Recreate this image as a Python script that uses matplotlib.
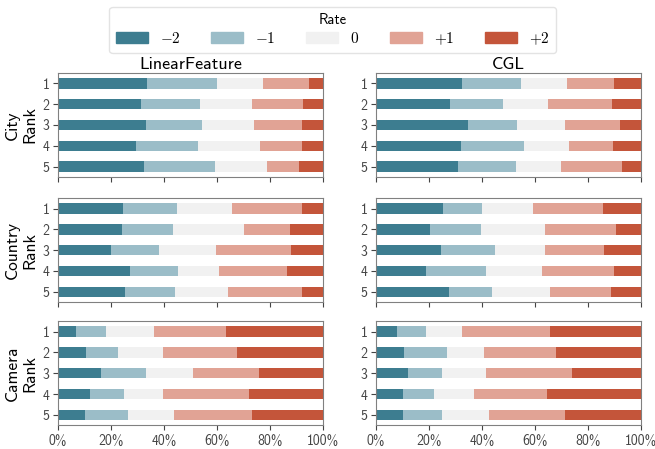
import numpy as np
import matplotlib
matplotlib.use("Agg")
import matplotlib.pyplot as plt
from matplotlib.patches import Patch

plt.rcParams["font.family"] = ["cmss10", "DejaVu Sans"]
plt.rcParams["mathtext.fontset"] = "cm"
plt.rcParams["axes.unicode_minus"] = False

ranks = ["1", "2", "3", "4", "5"]
rates = ["$-2$", "$-1$", "$0$", "$+1$", "$+2$"]
colors = ["#3d7d90", "#9bbdc8", "#f1f1f1", "#e1a395", "#c4553a"]
methods = ["LinearFeature", "CGL"]
groups = ["City", "Country", "Camera"]

# percentages per rank, columns: -2, -1, 0, +1, +2
city_linear = [[33.5, 26.5, 17.3, 17.4, 5.3],
               [31.2, 22.3, 19.7, 19.2, 7.6],
               [33.1, 21.2, 19.6, 18.2, 7.9],
               [29.3, 23.5, 23.4, 15.9, 7.9],
               [32.4, 26.8, 19.6, 12.1, 9.1]]
city_cgl = [[32.5, 22.4, 17.0, 17.8, 10.3],
            [28.0, 20.0, 17.1, 23.8, 11.1],
            [34.8, 18.5, 18.2, 20.4, 8.1],
            [32.2, 23.8, 17.0, 16.3, 10.7],
            [31.0, 22.0, 17.0, 22.7, 7.3]]
country_linear = [[24.4, 20.4, 20.8, 26.5, 7.9],
                  [24.0, 19.3, 26.8, 17.4, 12.5],
                  [19.9, 18.1, 21.6, 28.3, 12.1],
                  [27.1, 18.1, 15.5, 25.7, 13.6],
                  [25.4, 18.7, 20.0, 28.0, 7.9]]
country_cgl = [[25.3, 14.8, 19.3, 26.1, 14.5],
               [20.4, 19.3, 24.2, 26.5, 9.6],
               [24.6, 20.4, 18.6, 22.3, 14.1],
               [18.9, 22.7, 21.2, 26.9, 10.3],
               [27.6, 16.3, 21.9, 22.7, 11.5]]
camera_linear = [[6.7, 11.3, 18.1, 27.3, 36.6],
                 [10.5, 12.0, 17.0, 28.0, 32.5],
                 [16.1, 17.0, 17.8, 24.9, 24.2],
                 [12.0, 12.8, 14.7, 32.5, 28.0],
                 [10.1, 16.2, 17.4, 29.5, 26.8]]
camera_cgl = [[7.9, 11.0, 13.6, 33.3, 34.2],
              [10.6, 16.3, 14.0, 27.2, 31.9],
              [12.1, 12.9, 16.6, 32.2, 26.2],
              [10.2, 11.7, 15.2, 27.6, 35.3],
              [10.2, 14.8, 17.7, 28.8, 28.5]]

data = [[city_linear, city_cgl],
        [country_linear, country_cgl],
        [camera_linear, camera_cgl]]

fig = plt.figure(figsize=(6.55, 4.49), dpi=100)
lefts = [0.0885, 0.574]
bottoms = [0.606, 0.327, 0.053]
w, h = 0.4046, 0.2316

for i, grp in enumerate(groups):
    for j, meth in enumerate(methods):
        ax = fig.add_axes([lefts[j], bottoms[i], w, h])
        vals = np.array(data[i][j])
        vals = vals / vals.sum(axis=1, keepdims=True)
        y = np.arange(1, len(ranks) + 1)
        left = np.zeros(len(ranks))
        for k in range(len(rates)):
            ax.barh(y, vals[:, k], left=left, height=0.5, color=colors[k])
            left += vals[:, k]
        ax.set_xlim(0, 1)
        ax.set_ylim(5.5, 0.5)
        ax.set_yticks(y)
        ax.set_yticklabels(ranks)
        ax.set_xticks(np.linspace(0, 1, 6))
        if i == 2:
            ax.set_xticklabels([f"{int(v)}%" for v in np.linspace(0, 100, 6)])
        else:
            ax.set_xticklabels([])
        for s in ax.spines.values():
            s.set_color("#808080")
        ax.tick_params(colors="#444444", labelsize=10, length=3.5, pad=2.5)
        if j == 0:
            ax.set_ylabel(f"{grp}\nRank", fontsize=12.5, labelpad=4)
        if i == 0:
            ax.set_title(meth, fontsize=13, pad=3)

handles = [Patch(color=c) for c in colors]
fig.legend(handles, rates, loc="upper center", bbox_to_anchor=(0.508, 0.985),
           borderaxespad=0, ncol=5, title="Rate", fontsize=11,
           title_fontsize=10.5, handlelength=2.1, handleheight=0.72,
           handletextpad=0.79, columnspacing=2.0, edgecolor="#dddddd",
           borderpad=0.4, labelspacing=0.2)

plt.savefig("out.png", dpi=100)
plt.close()
